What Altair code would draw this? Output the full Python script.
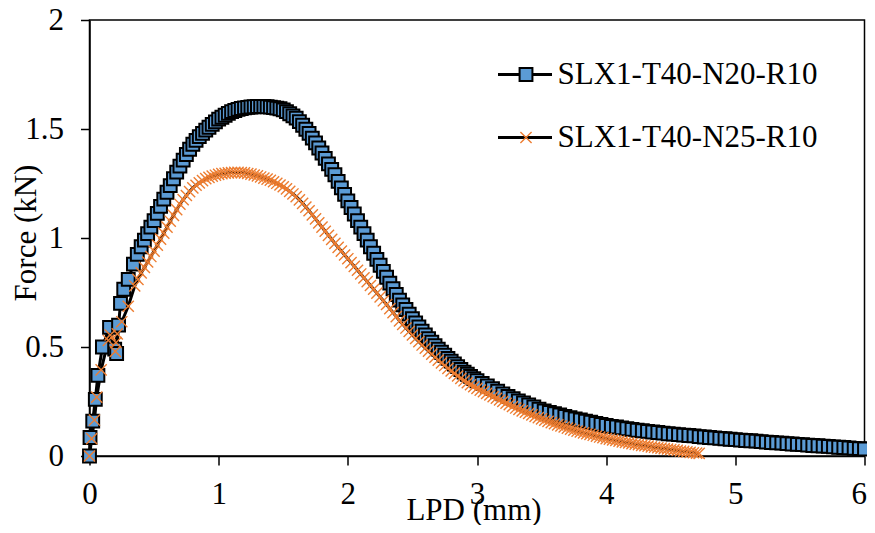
import altair as alt
import pandas as pd

SERIES = ["SLX1-T40-N20-R10", "SLX1-T40-N25-R10"]
X_TICKS = [0, 1, 2, 3, 4, 5, 6]
Y_TICKS = [0, 0.5, 1, 1.5, 2]

# Series 1: SLX1-T40-N20-R10 (blue squares)
n20_x = [
    0.0, 0.004, 0.025, 0.045, 0.065, 0.1, 0.155, 0.195, 0.21, 0.225, 0.24, 0.265, 0.3, 0.34, 0.37,
    0.4, 0.425, 0.45, 0.475, 0.5, 0.525, 0.55, 0.575, 0.6, 0.625, 0.65, 0.675,
    0.7, 0.725, 0.75, 0.775, 0.8, 0.825, 0.85, 0.875, 0.9, 0.925, 0.95, 0.975,
    1.0, 1.025, 1.05, 1.075, 1.1, 1.125, 1.15, 1.175, 1.2, 1.225, 1.25, 1.275,
    1.3, 1.325, 1.35, 1.375, 1.4, 1.425, 1.45, 1.475, 1.5, 1.525, 1.55, 1.575,
    1.6, 1.625, 1.65, 1.675, 1.7, 1.725, 1.75, 1.775, 1.8, 1.825, 1.85, 1.875,
    1.9, 1.925, 1.95, 1.975, 2.0, 2.025, 2.05, 2.075, 2.1, 2.125, 2.15, 2.175,
    2.2, 2.225, 2.25, 2.275, 2.3, 2.325, 2.35, 2.375, 2.4, 2.425, 2.45, 2.475,
    2.5, 2.525, 2.55, 2.575, 2.6, 2.625, 2.65, 2.675, 2.7, 2.725, 2.75, 2.775,
    2.8, 2.825, 2.85, 2.875, 2.9, 2.925, 2.95, 2.975, 3.0,
    3.04, 3.08, 3.12, 3.16, 3.2, 3.24, 3.28, 3.32, 3.36, 3.4, 3.44, 3.48,
    3.52, 3.56, 3.6, 3.64, 3.68, 3.72, 3.76, 3.8, 3.84, 3.88, 3.92, 3.96,
    4.0, 4.04, 4.08, 4.12, 4.16, 4.2, 4.24, 4.28, 4.32, 4.36, 4.4, 4.44,
    4.48, 4.52, 4.56, 4.6, 4.64, 4.68, 4.72, 4.76, 4.8, 4.84, 4.88, 4.92,
    4.96, 5.0, 5.04, 5.08, 5.12, 5.16, 5.2, 5.24, 5.28, 5.32, 5.36, 5.4,
    5.44, 5.48, 5.52, 5.56, 5.6, 5.64, 5.68, 5.72, 5.76, 5.8, 5.84, 5.88,
    5.92, 5.96, 6.0,
]
n20_y = [
    0.0, 0.085, 0.16, 0.26, 0.37, 0.5, 0.59, 0.49, 0.47, 0.6, 0.7, 0.765, 0.81, 0.88, 0.925,
    0.96, 0.99, 1.02, 1.05, 1.08, 1.113, 1.145, 1.178, 1.21, 1.24, 1.272, 1.302,
    1.33, 1.357, 1.383, 1.407, 1.43, 1.448, 1.465, 1.48, 1.495, 1.508, 1.521, 1.533,
    1.545, 1.554, 1.563, 1.572, 1.58, 1.585, 1.59, 1.594, 1.597, 1.599, 1.601, 1.602,
    1.603, 1.603, 1.603, 1.602, 1.6, 1.598, 1.596, 1.593, 1.588, 1.58, 1.57, 1.56,
    1.55, 1.534, 1.517, 1.499, 1.48, 1.458, 1.436, 1.413, 1.39, 1.365, 1.34, 1.315,
    1.29, 1.26, 1.23, 1.2, 1.17, 1.14, 1.11, 1.08, 1.05, 1.02, 0.99, 0.96,
    0.93, 0.902, 0.875, 0.847, 0.82, 0.793, 0.767, 0.741, 0.715, 0.693, 0.672, 0.651,
    0.63, 0.611, 0.592, 0.573, 0.555, 0.538, 0.522, 0.506, 0.49, 0.476, 0.462, 0.448,
    0.435, 0.422, 0.41, 0.397, 0.385, 0.375, 0.365, 0.355, 0.345,
    0.333, 0.321, 0.309, 0.297, 0.285, 0.273, 0.263, 0.253, 0.244, 0.234, 0.225, 0.215,
    0.207, 0.2, 0.194, 0.188, 0.182, 0.176, 0.17, 0.165, 0.16, 0.155, 0.15, 0.145,
    0.14, 0.136, 0.133, 0.129, 0.125, 0.122, 0.118, 0.116, 0.113, 0.11, 0.108, 0.105,
    0.102, 0.1, 0.098, 0.096, 0.094, 0.092, 0.089, 0.087, 0.085, 0.083, 0.081, 0.079,
    0.077, 0.075, 0.073, 0.071, 0.07, 0.068, 0.066, 0.064, 0.062, 0.06, 0.059, 0.057,
    0.055, 0.053, 0.052, 0.05, 0.048, 0.047, 0.045, 0.044, 0.042, 0.04, 0.039, 0.037,
    0.035, 0.034, 0.032,
]

# Series 2: SLX1-T40-N25-R10 (orange crosses)
n25_x = [
    0.0, 0.017, 0.038, 0.056, 0.09, 0.146, 0.16, 0.2, 0.205, 0.215, 0.25, 0.3, 0.35, 0.375,
    0.4, 0.425, 0.45, 0.475, 0.5, 0.525, 0.55, 0.575, 0.6, 0.625, 0.65, 0.675,
    0.7, 0.725, 0.75, 0.775, 0.8, 0.825, 0.85, 0.875, 0.9, 0.925, 0.95, 0.975,
    1.0, 1.025, 1.05, 1.075, 1.1, 1.125, 1.15, 1.175, 1.2, 1.225, 1.25, 1.275,
    1.3, 1.325, 1.35, 1.375, 1.4, 1.425, 1.45, 1.475, 1.5, 1.525, 1.55, 1.575,
    1.6, 1.625, 1.65, 1.675, 1.7, 1.725, 1.75, 1.775, 1.8, 1.825, 1.85, 1.875,
    1.9, 1.925, 1.95, 1.975, 2.0, 2.025, 2.05, 2.075, 2.1, 2.125, 2.15, 2.175,
    2.2, 2.225, 2.25, 2.275, 2.3, 2.325, 2.35, 2.375, 2.4, 2.425, 2.45, 2.475,
    2.5, 2.525, 2.55, 2.575, 2.6, 2.625, 2.65, 2.675, 2.7, 2.725, 2.75, 2.775,
    2.8, 2.825, 2.85, 2.875, 2.9, 2.925, 2.95, 2.975, 3.0, 3.025, 3.05, 3.075,
    3.1, 3.125, 3.15, 3.175, 3.2, 3.225, 3.25, 3.275, 3.3, 3.325, 3.35, 3.375,
    3.4, 3.425, 3.45, 3.475, 3.5, 3.525, 3.55, 3.575, 3.6, 3.625, 3.65, 3.675,
    3.7, 3.725, 3.75, 3.775, 3.8, 3.825, 3.85, 3.875, 3.9, 3.925, 3.95, 3.975,
    4.0, 4.025, 4.05, 4.075, 4.1, 4.125, 4.15, 4.175, 4.2, 4.225, 4.25, 4.275,
    4.3, 4.325, 4.35, 4.375, 4.4, 4.425, 4.45, 4.475, 4.5, 4.525, 4.55, 4.575,
    4.6, 4.625, 4.65, 4.675, 4.7, 4.72,
]
n25_y = [
    0.0, 0.08, 0.165, 0.27, 0.395, 0.53, 0.555, 0.48, 0.52, 0.56, 0.616, 0.687, 0.78, 0.81,
    0.84, 0.865, 0.89, 0.915, 0.94, 0.967, 0.995, 1.022, 1.05, 1.077, 1.104, 1.13,
    1.155, 1.176, 1.195, 1.213, 1.23, 1.242, 1.253, 1.263, 1.272, 1.278, 1.284, 1.288,
    1.292, 1.295, 1.297, 1.299, 1.3, 1.301, 1.301, 1.3, 1.299, 1.296, 1.293, 1.289,
    1.285, 1.28, 1.275, 1.27, 1.265, 1.258, 1.251, 1.243, 1.235, 1.225, 1.214, 1.202,
    1.19, 1.175, 1.159, 1.142, 1.125, 1.106, 1.088, 1.069, 1.05, 1.031, 1.012, 0.994,
    0.975, 0.957, 0.94, 0.922, 0.905, 0.887, 0.87, 0.852, 0.835, 0.817, 0.8, 0.782,
    0.765, 0.747, 0.73, 0.712, 0.695, 0.676, 0.658, 0.639, 0.62, 0.604, 0.587, 0.571,
    0.555, 0.539, 0.524, 0.509, 0.495, 0.481, 0.467, 0.453, 0.44, 0.427, 0.415, 0.402,
    0.39, 0.379, 0.367, 0.356, 0.345, 0.336, 0.327, 0.318, 0.31, 0.302, 0.295, 0.287,
    0.28, 0.272, 0.265, 0.257, 0.25, 0.242, 0.235, 0.227, 0.22, 0.214, 0.207, 0.201,
    0.195, 0.189, 0.182, 0.176, 0.17, 0.164, 0.159, 0.153, 0.148, 0.143, 0.138, 0.133,
    0.128, 0.123, 0.119, 0.114, 0.11, 0.106, 0.102, 0.099, 0.095, 0.091, 0.087, 0.084,
    0.08, 0.077, 0.074, 0.071, 0.068, 0.065, 0.062, 0.06, 0.057, 0.054, 0.052, 0.049,
    0.047, 0.045, 0.042, 0.04, 0.038, 0.036, 0.034, 0.032, 0.03, 0.028, 0.026, 0.023,
    0.021, 0.019, 0.017, 0.015, 0.013, 0.012,
]

rows = []
for name, xs, ys in ((SERIES[0], n20_x, n20_y), (SERIES[1], n25_x, n25_y)):
    for i, (xv, yv) in enumerate(zip(xs, ys)):
        rows.append({"lpd": xv, "force": yv, "idx": i, "series": name, "line": name})
df = pd.DataFrame(rows)

FONT = "Liberation Serif"
FS = 31

x_enc = alt.X(
    "lpd:Q",
    scale=alt.Scale(domain=[0, 6], nice=False, zero=False),
    axis=alt.Axis(
        values=X_TICKS, format="d", title="LPD (mm)", labelPadding=14,
        labelAlign={"condition": {"test": "datum.value == 6", "value": "right"}, "value": "center"},
        labelOffset={"condition": {"test": "datum.value == 6", "value": 2}, "value": 0},
        titleX=384, titleY=63, titleBaseline="alphabetic", titleAlign="center",
    ),
)
y_enc = alt.Y(
    "force:Q",
    scale=alt.Scale(domain=[0, 2], nice=False),
    axis=alt.Axis(values=Y_TICKS, format="~g", title="Force (kN)", labelPadding=17,
                  titleX=-54.5, titleY=212.5, titleBaseline="alphabetic", titleAlign="center"),
)

lines = alt.Chart(df).mark_line(color="black", strokeWidth=3).encode(
    x=x_enc,
    y=y_enc,
    order=alt.Order("idx:Q"),
    opacity=alt.Opacity(
        "line:N",
        scale=alt.Scale(range=[1, 1]),
        legend=alt.Legend(orient="none", legendX=407, legendY=26, title=None, padding=0,
                          symbolType="stroke", symbolSize=2916, symbolStrokeWidth=3,
                          symbolStrokeColor="black", labelExpr="''", rowPadding=19),
    ),
)

pt_legend = alt.Legend(orient="none", legendX=421, legendY=39, title=None, padding=0,
                       labelOffset=16, rowPadding=31, labelLimit=500)

points = alt.Chart(df).mark_point(opacity=1).encode(
    x=x_enc,
    y=y_enc,
    shape=alt.Shape("series:N", scale=alt.Scale(range=["square", "M-1,-1L1,1M1,-1L-1,1"]), legend=pt_legend),
    fill=alt.Fill("series:N", scale=alt.Scale(range=["#5B9BD5", "#ED7D31"]), legend=pt_legend),
    stroke=alt.Stroke("series:N", scale=alt.Scale(range=["black", "#ED7D31"]), legend=pt_legend),
    size=alt.Size("series:N", scale=alt.Scale(range=[165, 125]), legend=pt_legend),
    strokeWidth=alt.StrokeWidth("series:N", scale=alt.Scale(range=[2, 1.4]), legend=pt_legend),
)

chart = alt.layer(lines, points).properties(
    width=775,
    height=436,
    autosize=alt.AutoSizeParams(type="none"),
    padding={"left": 81.5, "top": 12, "right": 2.5, "bottom": 69},
).configure_view(
    stroke="black", strokeWidth=1.5
).configure_axis(
    grid=False, domainColor="black", domainWidth=1.5, tickColor="black", tickWidth=1.5,
    tickSize=9, labelFont=FONT, labelFontSize=FS, labelColor="black", titleFont=FONT,
    titleFontSize=FS, titleFontWeight="normal", titleColor="black", labelFlush=False,
    labelOverlap=False,
).configure_legend(
    labelFont=FONT, labelFontSize=FS, labelColor="black", labelLimit=500,
)

chart.save("out.html", embed_options={"renderer": "svg", "actions": False})
